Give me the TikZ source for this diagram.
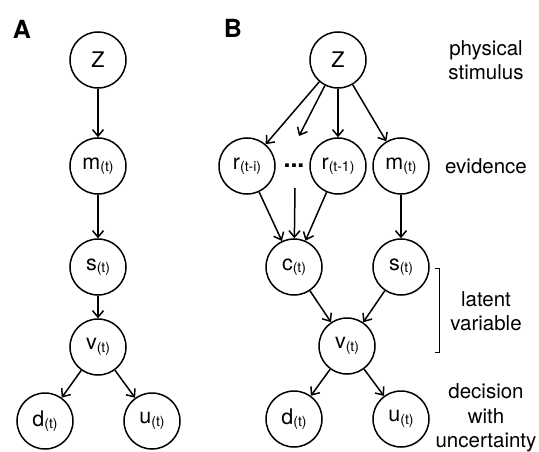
\documentclass[tikz,border=0pt]{standalone}
\usepackage{fontspec}
\setmainfont{TeX Gyre Heros}
\usetikzlibrary{arrows.meta}
\newcommand{\sbt}[1]{\raisebox{-2.5pt}{\fontsize{14}{14}\selectfont(#1)}}
\begin{document}
\begin{tikzpicture}[x=1pt,y=-1pt,
  var/.style={circle,draw,line width=1.5pt,minimum size=56pt,inner sep=0pt,font=\fontsize{21.5}{24}\selectfont},
  edge/.style={line width=1.5pt,-{Straight Barb[length=6.5pt,width=11pt,line width=1.5pt]}},
  lbl/.style={align=center,font=\fontsize{20.5}{24.5}\selectfont},
  panel/.style={font=\fontsize{25}{25}\selectfont\bfseries}]
\useasboundingbox (0,0) rectangle (539,452);
% Panel A
\node[panel] (pA) at (22,29) {A};
\node[var] (aZ) at (98,60) {Z};
\node[var] (am) at (98,166) {m\sbt{t}};
\node[var] (as) at (98,267) {s\sbt{t}};
\node[var] (av) at (98,347) {v\sbt{t}};
\node[var] (ad) at (45,421) {d\sbt{t}};
\node[var] (au) at (152,421) {u\sbt{t}};
\draw[edge] (aZ) -- (am);
\draw[edge] (am) -- (as);
\draw[edge] (as) -- (av);
\draw[edge] (av) -- (ad);
\draw[edge] (av) -- (au);
% Panel B
\node[panel] (pB) at (233,28) {B};
\node[var] (bZ) at (338,60) {Z};
\node[var] (bri) at (247,166) {r\sbt{t-i}};
\node[var] (br1) at (338,166) {r\sbt{t-1}};
\node[var] (bm) at (401,166) {m\sbt{t}};
\node[font=\fontsize{25}{25}\selectfont\bfseries,inner sep=0pt] (dots) at (294,166) {...};
\coordinate (dtop) at (299,136);
\coordinate (dbot) at (295,188);
\node[var] (bc) at (294,267) {c\sbt{t}};
\node[var] (bs) at (401,267) {s\sbt{t}};
\node[var] (bv) at (347,346) {v\sbt{t}};
\node[var] (bd) at (294,419) {d\sbt{t}};
\node[var] (bu) at (401,419) {u\sbt{t}};
\draw[edge] (bZ) -- (bri);
\draw[edge] (bZ) -- (dtop);
\draw[edge] (bZ) -- (br1);
\draw[edge] (bZ) -- (bm);
\draw[edge] (bri) -- (bc);
\draw[edge] (dbot) -- (bc);
\draw[edge] (br1) -- (bc);
\draw[edge] (bm) -- (bs);
\draw[edge] (bc) -- (bv);
\draw[edge] (bs) -- (bv);
\draw[edge] (bv) -- (bd);
\draw[edge] (bv) -- (bu);
% Right-hand labels
\node[lbl] (l1) at (486,60) {physical\\stimulus};
\node[lbl] (l2) at (486,166) {evidence};
\node[lbl] (l3) at (486,311) {latent\\variable};
\node[lbl] (l4) at (486,418) {decision\\with\\uncertainty};
\coordinate (k1) at (435,268);
\coordinate (k2) at (439,268);
\coordinate (k3) at (439,352);
\coordinate (k4) at (435,352);
\draw[line width=1pt] (k1) -- (k2) -- (k3) -- (k4);
\end{tikzpicture}
\end{document}
